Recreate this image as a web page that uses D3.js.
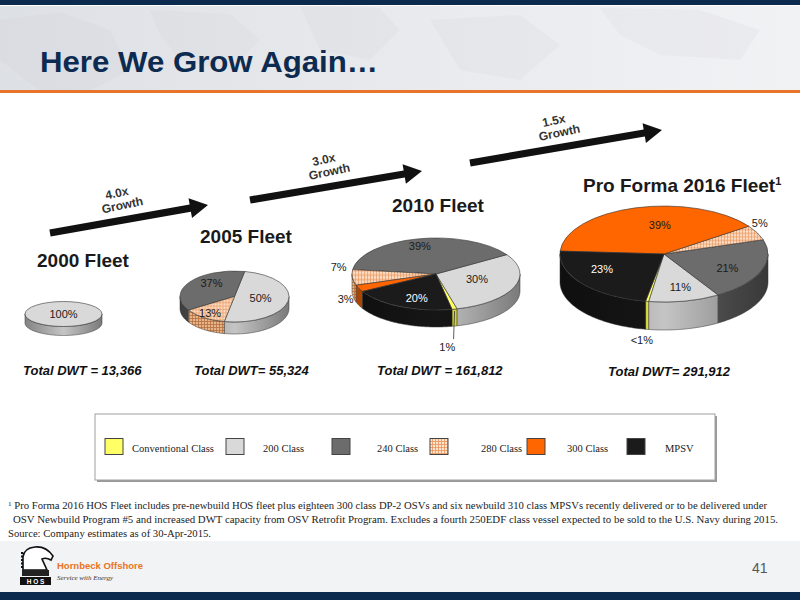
<!DOCTYPE html>
<html><head><meta charset="utf-8">
<script src="https://cdn.jsdelivr.net/npm/d3@7"></script>
<style>body{margin:0;background:#fff}svg{display:block}</style>
</head><body>
<svg id="c" width="800" height="600"></svg>
<script>
// ---------------- DATA ----------------
const classes = ["Conventional Class","200 Class","240 Class","280 Class","300 Class","MPSV"];
const fleetTitles = ["2000 Fleet","2005 Fleet","2010 Fleet","Pro Forma 2016 Fleet"];
const totals = ["Total DWT = 13,366","Total DWT= 55,324","Total DWT = 161,812","Total DWT= 291,912"];
const share2000 = [0,100,0,0,0,0];
const share2005 = [0,50,37,13,0,0];
const share2010 = [1,30,39,7,3,20];
const share2016 = [0.5,11,21,5,39,23];
const labels2000 = ["","100%","","","",""];
const labels2005 = ["","50%","37%","13%","",""];
const labels2010 = ["1%","30%","39%","7%","3%","20%"];
const labels2016 = ["<1%","11%","21%","5%","39%","23%"];
const growthLabels = ["4.0x","3.0x","1.5x"];
const footnotes = [
  "Pro Forma 2016 HOS Fleet includes pre-newbuild HOS fleet plus eighteen 300 class DP-2 OSVs and six newbuild 310 class MPSVs recently delivered or to be delivered under",
  "OSV Newbuild Program #5 and increased DWT capacity from OSV Retrofit Program. Excludes a fourth 250EDF class vessel expected to be sold to the U.S. Navy during 2015.",
  "Source: Company estimates as of 30-Apr-2015."
];

// ---------------- STYLE / LAYOUT ----------------
const topColors = ["#ffff66","#d9d9d9","#6c6c6c","url(#hatch)","#ff6600","#1b1b1b"];
const sideColors = ["#d4d43a","#b4b4b4","#555555",null,"#e05a00","#141414"];
const labelColors = ["#1a1a1a","#1a1a1a","#1a1a1a","#1a1a1a","#1a1a1a","#ffffff"];
const pieLayout = [
  {vals:share2000, labels:labels2000, cx:63.5, cy:314, rx:38.5, ry:12.5, h:9,  start:0,
   nudge:{1:[0,-8]}, outside:[]},
  {vals:share2005, labels:labels2005, cx:234.5, cy:296.5, rx:54.5, ry:25.5, h:12, start:3.33,
   nudge:{1:[-6,-1],2:[4,-5],3:[-6,4]}, outside:[]},
  {vals:share2010, labels:labels2010, cx:436, cy:274, rx:84, ry:36, h:17, start:2.95,
   nudge:{0:[-11,31],1:[-6,-3],2:[-5,-7],3:[3,-11],4:[2,8],5:[2,4]}, outside:[0,3,4], leader:[0]},
  {vals:share2016, labels:labels2016, cx:664, cy:254, rx:104, ry:48, h:28, start:3.32,
   nudge:{0:[-2,29],1:[4,5],2:[5,4],3:[-16,-5],4:[13,-1],5:[-13,-3]}, outside:[0,3]}
];
const titlePos = [[37,267],[200,243],[392,212],[583,192]];
const totalPos = [[23,375],[194,375],[377,375],[608,376]];
const arrows = [[[50,233],[208,205]],[[250,200],[422,171]],[[470,163],[662,130]]];
const legendSwatchX = [105,226,332,430,527,627];
const legendTextX = [132,263,377,481,567,665];

const svg = d3.select("#c");
const defs = svg.append("defs");
const FONT = "'Liberation Sans', Arial, sans-serif";
const SERIF = "'Liberation Serif', 'Times New Roman', serif";

// patterns
const hp = defs.append("pattern").attr("id","hatch").attr("patternUnits","userSpaceOnUse").attr("width",3).attr("height",3);
hp.append("rect").attr("width",3).attr("height",3).attr("fill","#fde2cc");
hp.append("path").attr("d","M0 0.5H3M0.5 0V3").attr("stroke","#e8955c").attr("stroke-width",0.8);
const hs = defs.append("pattern").attr("id","hatchSide").attr("patternUnits","userSpaceOnUse").attr("width",3).attr("height",3);
hs.append("rect").attr("width",3).attr("height",3).attr("fill","#e6b48c");
hs.append("path").attr("d","M0 0.5H3M0.5 0V3").attr("stroke","#b8703c").attr("stroke-width",0.8);

// header gradient
const hg = defs.append("linearGradient").attr("id","hdr").attr("x1",0).attr("x2",1).attr("y1",0).attr("y2",0);
[["0","#dde0e5"],["0.45","#e7e9ec"],["1","#f1f2f4"]].forEach(s=>hg.append("stop").attr("offset",s[0]).attr("stop-color",s[1]));

// ---------------- BACKGROUND ----------------
svg.append("rect").attr("width",800).attr("height",600).attr("fill","#ffffff");
svg.append("rect").attr("width",800).attr("height",91).attr("fill","url(#hdr)");
const mapShapes = [
  "M0 20 L60 12 L110 30 L130 70 L90 91 L40 91 L0 60 Z",
  "M150 10 L230 14 L260 40 L230 70 L180 60 L160 35 Z",
  "M300 6 L380 8 L400 30 L370 60 L320 50 Z",
  "M430 20 L520 15 L560 45 L520 80 L460 70 Z",
  "M600 8 L700 10 L760 30 L740 60 L660 55 L620 35 Z"
];
svg.append("g").selectAll("path").data(mapShapes).join("path")
  .attr("d",d=>d).attr("fill","#c4c9d1").attr("opacity",0.12);
svg.append("rect").attr("width",800).attr("height",5).attr("fill","#0b2a4e");
svg.append("rect").attr("y",5).attr("width",800).attr("height",1).attr("fill","#ffffff");
svg.append("rect").attr("y",90).attr("width",800).attr("height",3).attr("fill","#e8742c");
svg.append("rect").attr("y",541).attr("width",800).attr("height",51).attr("fill","#f2f3f5");
svg.append("rect").attr("y",592).attr("width",800).attr("height",8).attr("fill","#0b2a4e");

// title
svg.append("text").attr("x",40).attr("y",72).text("Here We Grow Again…")
  .attr("font-family",FONT).attr("font-weight","bold").attr("font-size",30).attr("fill","#0d2b50")
  .attr("textLength",338).attr("lengthAdjust","spacingAndGlyphs");

// ---------------- ARROWS ----------------
const ag = svg.append("g");
arrows.forEach((a,i)=>{
  const [t,p] = a;
  const ang = Math.atan2(p[1]-t[1], p[0]-t[0]);
  const len = Math.hypot(p[0]-t[0], p[1]-t[1]);
  const g = ag.append("g").attr("transform",`translate(${t[0]},${t[1]}) rotate(${ang*180/Math.PI})`);
  const hl = 18, hw = 10, sw = 3.6;
  g.append("path").attr("d",d3.line()([[0,-sw],[len-hl,-sw],[len-hl,-hw],[len,0],[len-hl,hw],[len-hl,sw],[0,sw]])+"Z")
    .attr("fill","#111");
  const mx = (t[0]+p[0])/2 - 11, my = (t[1]+p[1])/2 - 20;
  const tg = ag.append("g").attr("transform",`translate(${mx},${my}) rotate(-12)`);
  tg.append("text").attr("y",-6).attr("text-anchor","middle").attr("dominant-baseline","central").text(growthLabels[i])
    .attr("font-family",FONT).attr("font-weight","bold").attr("font-size",12).attr("fill","#333");
  tg.append("text").attr("x",3).attr("y",7).attr("text-anchor","middle").attr("dominant-baseline","central").text("Growth")
    .attr("font-family",FONT).attr("font-weight","bold").attr("font-size",12).attr("fill","#333");
});

// ---------------- PIES ----------------
function frontRanges(lo, hi){
  const res=[];
  for (let k=-2;k<=2;k++){
    const f0 = Math.PI/2 + 2*Math.PI*k, f1 = 3*Math.PI/2 + 2*Math.PI*k;
    const s = Math.max(lo,f0), e = Math.min(hi,f1);
    if (e > s + 1e-6) res.push([s,e]);
  }
  return res;
}
function wallPath(p, s, e){
  const n = Math.max(2, Math.ceil((e-s)/0.02));
  const ts = d3.range(n+1).map(i => s + (e-s)*i/n);
  const top = ts.map(t => [p.cx + p.rx*Math.sin(t), p.cy - p.ry*Math.cos(t)]);
  const bot = ts.slice().reverse().map(t => [p.cx + p.rx*Math.sin(t), p.cy - p.ry*Math.cos(t) + p.h]);
  return d3.line()(top.concat(bot)) + "Z";
}

pieLayout.forEach((p,pi)=>{
  const data = p.vals.map((v,i)=>({v, i, label:p.labels[i]}));
  const arcs = d3.pie().sort(null).value(d=>d.v)
    .startAngle(p.start).endAngle(p.start - 2*Math.PI)(data)
    .filter(a=>a.data.v>0);
  sideColors.forEach((c,i)=>{
    if(!c) return;
    const gr = defs.append("linearGradient").attr("id",`w${pi}_${i}`).attr("gradientUnits","userSpaceOnUse")
      .attr("x1",p.cx-p.rx).attr("x2",p.cx+p.rx).attr("y1",0).attr("y2",0);
    const base = d3.color(c);
    gr.append("stop").attr("offset",0).attr("stop-color",base.darker(0.9));
    gr.append("stop").attr("offset",0.5).attr("stop-color",base.brighter(0.25));
    gr.append("stop").attr("offset",1).attr("stop-color",base.darker(1.1));
  });
  const g = svg.append("g");
  arcs.forEach(a=>{
    const lo = Math.min(a.startAngle,a.endAngle), hi = Math.max(a.startAngle,a.endAngle);
    frontRanges(lo,hi).forEach(r=>{
      g.append("path").attr("d",wallPath(p,r[0],r[1]))
        .attr("fill", a.data.i===3 ? "url(#hatchSide)" : `url(#w${pi}_${a.data.i})`)
        .attr("stroke","#333").attr("stroke-width",0.5).attr("stroke-linejoin","round");
    });
  });
  const arc = d3.arc().innerRadius(0).outerRadius(p.rx);
  const tg = g.append("g").attr("transform",`translate(${p.cx},${p.cy}) scale(1,${p.ry/p.rx})`);
  tg.selectAll("path").data(arcs).join("path")
    .attr("d",arc)
    .attr("fill",d=>topColors[d.data.i])
    .attr("stroke","#333").attr("stroke-width",0.6).attr("vector-effect","non-scaling-stroke");
  arcs.forEach(a=>{
    const mid = (a.startAngle+a.endAngle)/2;
    const out = p.outside.includes(a.data.i);
    const f = out ? 1.2 : 0.6;
    const nd = p.nudge[a.data.i] || [0,0];
    const x = p.cx + f*p.rx*Math.sin(mid) + nd[0];
    const y = p.cy - f*p.ry*Math.cos(mid) + nd[1];
    if (p.leader && p.leader.includes(a.data.i)){
      const ex = p.cx + p.rx*Math.sin(mid), ey = p.cy - p.ry*Math.cos(mid);
      g.append("path").attr("d",d3.line()([[ex,ey+2],[ex-1,y-8]])).attr("stroke","#333").attr("stroke-width",0.8).attr("fill","none");
    }
    g.append("text").attr("x",x).attr("y",y).attr("text-anchor","middle").attr("dominant-baseline","central")
      .text(a.data.label)
      .attr("font-family",FONT).attr("font-size",11)
      .attr("fill", out ? "#1a1a1a" : labelColors[a.data.i]);
  });
  const tt = svg.append("text").attr("x",titlePos[pi][0]).attr("y",titlePos[pi][1])
    .attr("font-family",FONT).attr("font-weight","bold").attr("font-size",19).attr("fill","#1a1a1a");
  tt.append("tspan").text(fleetTitles[pi]);
  if (pi===3) tt.append("tspan").text("1").attr("font-size",11).attr("dy",-7);
  svg.append("text").attr("x",totalPos[pi][0]).attr("y",totalPos[pi][1]).text(totals[pi])
    .attr("font-family",FONT).attr("font-weight","bold").attr("font-style","italic").attr("font-size",13).attr("fill","#111");
});

// ---------------- LEGEND ----------------
const lg = svg.append("g");
lg.append("rect").attr("x",97).attr("y",416).attr("width",620).attr("height",66).attr("fill","#9a9a9a");
lg.append("rect").attr("x",95).attr("y",414).attr("width",620).attr("height",66).attr("fill","#fff").attr("stroke","#a0a0a0").attr("stroke-width",1);
classes.forEach((c,i)=>{
  lg.append("rect").attr("x",legendSwatchX[i]).attr("y",438.5).attr("width",18).attr("height",16)
    .attr("fill",topColors[i]).attr("stroke","#444").attr("stroke-width",1);
  lg.append("text").attr("x",legendTextX[i]).attr("y",451.5).text(c)
    .attr("font-family",SERIF).attr("font-size",10.5).attr("fill","#222");
});

// ---------------- FOOTNOTES ----------------
const fn = svg.append("g").attr("font-family",SERIF).attr("fill","#222").attr("font-size",10.5);
const f1 = fn.append("text").attr("x",8).attr("y",509).attr("textLength",759).attr("lengthAdjust","spacingAndGlyphs");
f1.append("tspan").text("1").attr("font-size",7).attr("dy",-3);
f1.append("tspan").text(" " + footnotes[0]).attr("dy",3);
fn.append("text").attr("x",13).attr("y",523).text(footnotes[1]).attr("textLength",765).attr("lengthAdjust","spacingAndGlyphs");
fn.append("text").attr("x",8).attr("y",537).text(footnotes[2]).attr("textLength",203).attr("lengthAdjust","spacingAndGlyphs");

// ---------------- FOOTER ----------------
const lo = svg.append("g");
lo.append("path").attr("d","M23 570 L23 557 Q24 548 35 547 Q46 546 53 556 L51 560 Q46 557 42 559 L47 570 Z")
  .attr("fill","#fff").attr("stroke","#111").attr("stroke-width",1.6);
lo.append("path").attr("d","M22 552 L22 568").attr("stroke","#111").attr("stroke-width",2).attr("stroke-dasharray","2,1.5");
lo.append("rect").attr("x",22).attr("y",570).attr("width",27).attr("height",6).attr("fill","#222");
lo.append("rect").attr("x",20).attr("y",577).attr("width",31).attr("height",8).attr("fill","#111");
lo.append("text").attr("x",35.5).attr("y",583.5).attr("text-anchor","middle").text("H O S")
  .attr("font-family",FONT).attr("font-weight","bold").attr("font-size",6.5).attr("fill","#fff");
lo.append("text").attr("x",57).attr("y",569).text("Hornbeck Offshore")
  .attr("font-family",FONT).attr("font-weight","bold").attr("font-size",9.5).attr("fill","#e8731f");
lo.append("text").attr("x",57).attr("y",580).text("Service with Energy")
  .attr("font-family",SERIF).attr("font-style","italic").attr("font-size",7).attr("fill","#333");
svg.append("text").attr("x",752).attr("y",573).text("41")
  .attr("font-family",FONT).attr("font-size",14).attr("fill","#555");
</script>
</body></html>
